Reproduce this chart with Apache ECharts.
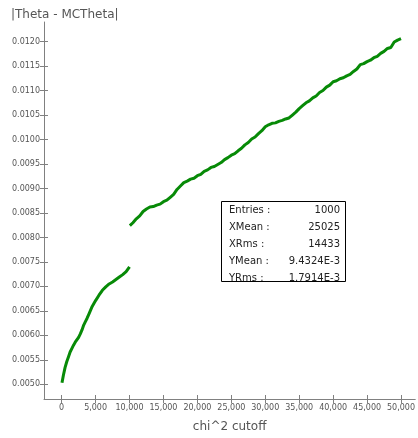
<!DOCTYPE html>
<html>
<head>
<meta charset="utf-8">
<script src="https://cdn.jsdelivr.net/npm/echarts@6/dist/echarts.min.js"></script>
<style>html,body{margin:0;padding:0;background:#fff;}#c{width:418px;height:438px;}</style>
</head>
<body>
<div id="c"></div>
<script>
// lower branch (chi^2 cutoff <= 10000)
const xLow = [50,250,500,750,1000,1250,1500,1750,2000,2250,2500,2750,3000,3250,3500,3750,4000,4250,4500,4750,5000,5500,6000,6500,7000,7500,8000,8500,9000,9500,10000];
const yLow = [0.00503,0.00518,0.00534,0.00546,0.00556,0.00566,0.00573,0.00580,0.00586,0.00590,0.00596,0.00603,0.00611,0.00621,0.00628,0.00635,0.00643,0.00651,0.00659,0.00665,0.00671,0.00682,0.00692,0.00699,0.00705,0.00709,0.00714,0.00719,0.00724,0.00730,0.00740];
// upper branch (chi^2 cutoff > 10000)
const xHigh = [10050,10500,11000,11500,12000,12500,13000,13500,14000,14500,15000,15500,16000,16500,17000,17500,18000,18500,19000,19500,20000,20500,21000,21500,22000,22500,23000,23500,24000,24500,25000,25500,26000,26500,27000,27500,28000,28500,29000,29500,30000,30500,31000,31500,32000,32500,33000,33500,34000,34500,35000,35500,36000,36500,37000,37500,38000,38500,39000,39500,40000,40500,41000,41500,42000,42500,43000,43500,44000,44500,45000,45500,46000,46500,47000,47500,48000,48500,49000,49500,50000];
const yHigh = [0.00824,0.00830,0.00838,0.00844,0.00853,0.00858,0.00862,0.00863,0.00866,0.00868,0.00873,0.00876,0.00882,0.00888,0.00898,0.00905,0.00912,0.00915,0.00919,0.00921,0.00926,0.00929,0.00935,0.00938,0.00943,0.00945,0.00949,0.00953,0.00959,0.00963,0.00968,0.00971,0.00977,0.00982,0.00989,0.00994,0.01001,0.01005,0.01012,0.01018,0.01026,0.01030,0.01033,0.01034,0.01037,0.01039,0.01042,0.01044,0.01050,0.01056,0.01063,0.01069,0.01075,0.01079,0.01085,0.01089,0.01096,0.01100,0.01107,0.01111,0.01118,0.01120,0.01124,0.01126,0.01130,0.01133,0.01139,0.01144,0.01153,0.01155,0.01159,0.01162,0.01167,0.01170,0.01176,0.01180,0.01186,0.01188,0.01199,0.01203,0.01206];
const xTicks = [0,5000,10000,15000,20000,25000,30000,35000,40000,45000,50000];
const yTicks = [0.0050,0.0055,0.0060,0.0065,0.0070,0.0075,0.0080,0.0085,0.0090,0.0095,0.0100,0.0105,0.0110,0.0115,0.0120];
const statNames = ['Entries :','XMean :','XRms :','YMean :','YRms :'];
const statValues = ['1000','25025','14433','9.4324E-3','1.7914E-3'];

const FONT = 'DejaVu Sans';
const AX = '#808080';
const LBL = '#555';
const XMIN = -2600, XMAX = 52100, YMIN = 0.0047, YMAX = 0.0124;
const fmtX = v => Math.round(v).toLocaleString('en-US');

const chart = echarts.init(document.getElementById('c'), null, {renderer:'canvas'});
const statGraphics = [{
  type:'rect', shape:{x:221.5,y:201.5,width:124,height:80},
  style:{fill:'#fff',stroke:'#000',lineWidth:1}, z:100
}];
statNames.forEach((n,i)=>{
  const y = 210 + i*17;
  statGraphics.push({type:'text', x:229, y:y, z:101, style:{text:n, fill:'#222', font:'10px '+FONT, textAlign:'left', textVerticalAlign:'middle'}});
  statGraphics.push({type:'text', x:340, y:y, z:101, style:{text:statValues[i], fill:'#222', font:'10px '+FONT, textAlign:'right', textVerticalAlign:'middle'}});
});

chart.setOption({
  animation:false,
  backgroundColor:'#fff',
  title:{text:'|Theta - MCTheta|', left:6, top:4, textStyle:{fontFamily:FONT,fontSize:12,fontWeight:'normal',color:LBL}},
  grid:{left:44,right:2,top:22,bottom:31,containLabel:false},
  xAxis:[{
    type:'value', min:XMIN, max:XMAX, position:'bottom',
    name:'chi^2 cutoff', nameLocation:'middle', nameGap:22,
    nameTextStyle:{fontFamily:FONT,fontSize:12,color:LBL},
    axisLine:{show:true,onZero:false,lineStyle:{color:AX,width:1}},
    axisTick:{show:true,inside:false,length:4,customValues:xTicks,lineStyle:{color:AX}},
    axisLabel:{customValues:xTicks,formatter:fmtX,fontFamily:FONT,fontSize:8,color:LBL,margin:5},
    splitLine:{show:false}
  },{
    type:'value', min:XMIN, max:XMAX, position:'bottom',
    axisLine:{show:false,onZero:false},
    axisTick:{show:true,inside:true,length:4,customValues:xTicks,lineStyle:{color:AX}},
    axisLabel:{show:false}, splitLine:{show:false}
  }],
  yAxis:[{
    type:'value', min:YMIN, max:YMAX, position:'left',
    axisLine:{show:true,onZero:false,lineStyle:{color:AX,width:1}},
    axisTick:{show:true,inside:false,length:4,customValues:yTicks,lineStyle:{color:AX}},
    axisLabel:{customValues:yTicks,formatter:v=>v.toFixed(4),fontFamily:FONT,fontSize:8,color:LBL,margin:4},
    splitLine:{show:false}
  },{
    type:'value', min:YMIN, max:YMAX, position:'left',
    axisLine:{show:false,onZero:false},
    axisTick:{show:true,inside:true,length:4,customValues:yTicks,lineStyle:{color:AX}},
    axisLabel:{show:false}, splitLine:{show:false}
  }],
  series:[{
    type:'line', xAxisIndex:0, yAxisIndex:0, showSymbol:false, symbol:'none',
    data:xLow.map((x,i)=>[x,yLow[i]]),
    lineStyle:{color:'#078a07',width:3}
  },{
    type:'line', xAxisIndex:0, yAxisIndex:0, showSymbol:false, symbol:'none',
    data:xHigh.map((x,i)=>[x,yHigh[i]]),
    lineStyle:{color:'#078a07',width:3}
  }],
  graphic:statGraphics
});
</script>
</body>
</html>
